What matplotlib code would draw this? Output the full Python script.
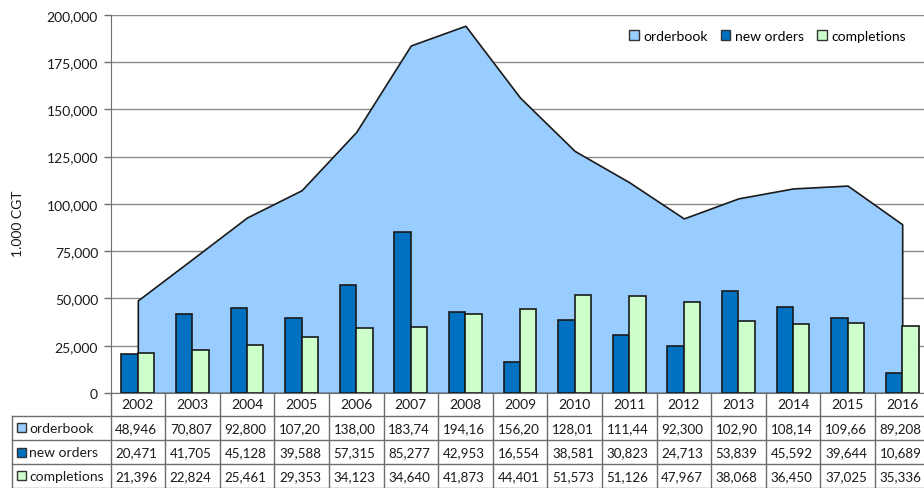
import matplotlib
matplotlib.use("Agg")
import matplotlib.pyplot as plt
import matplotlib.transforms as mtransforms
from matplotlib.patches import Patch, Rectangle
from matplotlib.lines import Line2D
import numpy as np

# Shipbuilding market, thousand CGT
years = [str(y) for y in range(2002, 2017)]
orderbook = [48946, 70807, 92800, 107200, 138000, 183740, 194160, 156200,
             128010, 111440, 92300, 102900, 108140, 109660, 89208]
new_orders = [20471, 41705, 45128, 39588, 57315, 85277, 42953, 16554,
              38581, 30823, 24713, 53839, 45592, 39644, 10689]
completions = [21396, 22824, 25461, 29353, 34123, 34640, 41873, 44401,
               51573, 51126, 47967, 38068, 36450, 37025, 35336]
series_names = ["orderbook", "new orders", "completions"]
y_ticks = list(range(0, 200001, 25000))
y_label = "1.000 CGT"

C_ORDER = "#99CCFF"
C_NEW = "#0070C0"
C_DONE = "#CCFFCC"
EDGE = "#1a1a1a"
GRID = "#8a8a8a"
TABLE_LINE = "#6e6e6e"
TEXT = "#1a1a1a"

plt.rcParams['font.family'] = ['Lato', 'DejaVu Sans']

W, H = 924, 489
fig = plt.figure(figsize=(W / 100, H / 100), dpi=100)


def fx(px):
    return px / W


def fy(py):
    return 1 - py / H


# plot area in pixel coordinates (runs slightly past the right border)
left, right, top, bottom = 110.5, 929.5, 15.7, 394.0
ax = fig.add_axes([fx(left), fy(bottom), (right - left) / W, (bottom - top) / H])

x = np.arange(len(years))
ax.fill_between(x, orderbook, 0, facecolor=C_ORDER, edgecolor=EDGE,
                linewidth=1.2, zorder=2)
bw = 0.3
ax.bar(x - bw / 2, new_orders, bw, color=C_NEW, edgecolor=EDGE, linewidth=1.2, zorder=3)
ax.bar(x + bw / 2, completions, bw, color=C_DONE, edgecolor=EDGE, linewidth=1.2, zorder=3)

ax.set_xlim(-0.5, len(years) - 0.5)
ax.set_ylim(0, 200000)
ax.set_yticks(y_ticks)
ax.set_yticklabels([f"{v:,}" for v in y_ticks])
ax.set_xticks([])
ax.yaxis.grid(True, color=GRID, linewidth=1.0)
ax.set_axisbelow(True)
ax.tick_params(axis='y', length=5, width=1, color=TABLE_LINE, labelsize=10,
               labelcolor=TEXT, pad=4)
for s in ("top", "right"):
    ax.spines[s].set_visible(False)
ax.spines["left"].set_color(TABLE_LINE)
ax.spines["bottom"].set_color(TABLE_LINE)

fig.text(fx(18), fy(224), y_label, rotation=90, ha='center', va='center',
         fontsize=10, color=TEXT)

# legend
handles = [Patch(facecolor=c, edgecolor="#333333", linewidth=1.0)
           for c in (C_ORDER, C_NEW, C_DONE)]
fig.legend(handles, series_names, loc='upper right', ncol=3, frameon=False,
           bbox_to_anchor=(fx(913), fy(24)), bbox_transform=fig.transFigure,
           borderpad=0, fontsize=10, handlelength=0.7, handleheight=0.7,
           handletextpad=0.35, columnspacing=0.9)

# data table under the plot
tr = mtransforms.blended_transform_factory(ax.transData, fig.transFigure)
rows = [394.0, 416.5, 441.0, 465.0, 488.5]
label_left = 12.0
TFS = 9.6

for i in range(len(years) + 1):
    xv = i - 0.5
    fig.add_artist(Line2D([xv, xv], [fy(rows[0]), fy(rows[-1])], transform=tr,
                          color=TABLE_LINE, linewidth=1.0))
for r in rows[1:]:
    fig.add_artist(Line2D([fx(label_left), 1.02], [fy(r), fy(r)],
                          transform=fig.transFigure, color=TABLE_LINE, linewidth=1.0))
fig.add_artist(Line2D([fx(label_left), fx(label_left)], [fy(rows[1]), fy(rows[-1])],
                      transform=fig.transFigure, color=TABLE_LINE, linewidth=1.0))

hdr_c = (rows[0] + rows[1]) / 2
for i, yr in enumerate(years):
    fig.text(i, fy(hdr_c), yr, transform=tr, ha='center', va='center',
             fontsize=10, color=TEXT)

table_series = [orderbook, new_orders, completions]
colors = [C_ORDER, C_NEW, C_DONE]
for k, (name, vals, col) in enumerate(zip(series_names, table_series, colors)):
    yc = (rows[k + 1] + rows[k + 2]) / 2
    fig.add_artist(Rectangle((fx(17), fy(yc + 4.5)), 9 / W, 9 / H,
                             transform=fig.transFigure, facecolor=col,
                             edgecolor="#333333", linewidth=1.0))
    fig.text(fx(29), fy(yc), name, ha='left', va='center', fontsize=TFS + 0.4,
             color=TEXT)
    for i, v in enumerate(vals):
        # narrow cells only show the first six characters
        fig.text(i - 0.03, fy(yc), f"{v:,}"[:6], transform=tr, ha='center',
                 va='center', fontsize=TFS, color=TEXT)

fig.savefig("out.png", dpi=100)
